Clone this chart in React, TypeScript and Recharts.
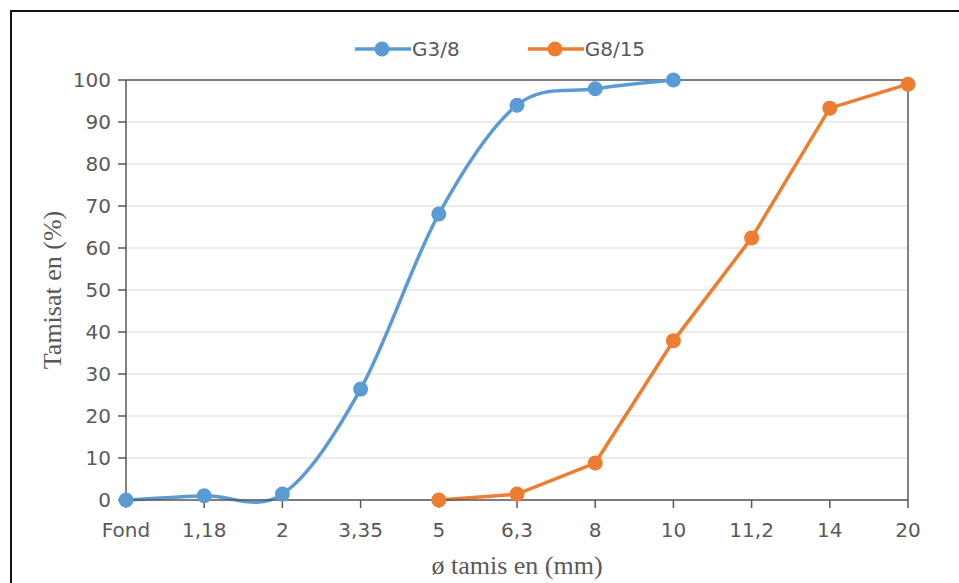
import {
  LineChart,
  Line,
  XAxis,
  YAxis,
  CartesianGrid,
  Legend,
  ReferenceLine,
  Label,
} from 'recharts';

// tamis (mm)
const sieves = ['Fond', '1,18', '2', '3,35', '5', '6,3', '8', '10', '11,2', '14', '20'];
// tamisat cumulé (%)
const g3_8 = [0, 1, 1.4, 26.4, 68.1, 94, 97.9, 100, null, null, null];
const g8_15 = [null, null, null, null, 0, 1.4, 8.8, 37.9, 62.4, 93.3, 99];
const yTicks = [0, 10, 20, 30, 40, 50, 60, 70, 80, 90, 100];

const BLUE = '#5B9BD5';
const ORANGE = '#ED7D31';
const AXIS = '#595959';
const TEXT = '#595959';

const chartData = sieves.map((s, i) => ({ sieve: s, g3_8: g3_8[i], g8_15: g8_15[i] }));

// lissage façon Excel (bezier, tangente = (p[i+1]-p[i-1])/6)
const excelSmooth = (ctx: any) => {
  let pts: number[][] = [];
  return {
    areaStart() {},
    areaEnd() {},
    lineStart() {
      pts = [];
    },
    point(x: number, y: number) {
      pts.push([+x, +y]);
    },
    lineEnd() {
      if (!pts.length) return;
      ctx.moveTo(pts[0][0], pts[0][1]);
      for (let i = 0; i < pts.length - 1; i++) {
        const p0 = pts[i - 1] || pts[i];
        const p1 = pts[i];
        const p2 = pts[i + 1];
        const p3 = pts[i + 2] || p2;
        ctx.bezierCurveTo(
          p1[0] + (p2[0] - p0[0]) / 6,
          p1[1] + (p2[1] - p0[1]) / 6,
          p2[0] - (p3[0] - p1[0]) / 6,
          p2[1] - (p3[1] - p1[1]) / 6,
          p2[0],
          p2[1],
        );
      }
    },
  };
};

const legendItems = [
  { name: 'G3/8', color: BLUE },
  { name: 'G8/15', color: ORANGE },
];

const LegendContent = () => (
  <div style={{ display: 'flex', alignItems: 'center' }}>
    {legendItems.map(item => (
      <div key={item.name} style={{ display: 'flex', alignItems: 'center', marginRight: 68 }}>
        <svg width={56} height={20}>
          <line x1={0} y1={10} x2={56} y2={10} stroke={item.color} strokeWidth={3.5} />
          <circle cx={27} cy={10} r={7.5} fill={item.color} />
        </svg>
        <span style={{ fontFamily: 'DejaVu Sans', fontSize: 20, color: TEXT, marginLeft: 1 }}>
          {item.name}
        </span>
      </div>
    ))}
  </div>
);

const tickStyle = { fontFamily: 'DejaVu Sans', fontSize: 20, fill: TEXT };

const App = () => {
  return (
    <div
      style={{
        position: 'fixed',
        left: 0,
        top: 0,
        width: 959,
        height: 583,
        overflow: 'hidden',
        background: '#fff',
      }}
    >
      <div
        style={{
          position: 'absolute',
          left: 10,
          top: 10,
          width: 1000,
          height: 650,
          border: '2.5px solid #111',
          boxSizing: 'border-box',
        }}
      />
      <div style={{ position: 'absolute', left: 0, top: 0 }}>
        <LineChart
          width={959}
          height={583}
          data={chartData}
          margin={{ top: 80, right: 51, bottom: 0, left: 0 }}
        >
          <CartesianGrid vertical={false} stroke="#D9D9D9" strokeWidth={1} />
          <XAxis
            dataKey="sieve"
            interval={0}
            height={83}
            tick={tickStyle}
            tickSize={8}
            tickMargin={15}
            axisLine={{ stroke: AXIS, strokeWidth: 1.5 }}
            tickLine={{ stroke: AXIS, strokeWidth: 1.5 }}
          >
            <Label
              value="ø tamis en (mm)"
              position="insideBottom"
              offset={9}
              style={{ fontFamily: 'Liberation Serif', fontSize: 26, fill: TEXT }}
            />
          </XAxis>
          <YAxis
            width={126}
            domain={[0, 100]}
            ticks={yTicks}
            interval={0}
            tick={tickStyle}
            tickSize={8}
            tickMargin={7}
            axisLine={{ stroke: AXIS, strokeWidth: 1.5 }}
            tickLine={{ stroke: AXIS, strokeWidth: 1.5 }}
          >
            <Label
              value="Tamisat en (%)"
              angle={-90}
              position="insideLeft"
              offset={52}
              style={{ fontFamily: 'Liberation Serif', fontSize: 26, fill: TEXT, textAnchor: 'middle' }}
            />
          </YAxis>
          <ReferenceLine y={100} stroke={AXIS} strokeWidth={1.5} />
          <ReferenceLine x="20" stroke={AXIS} strokeWidth={1.5} />
          <Legend
            verticalAlign="middle"
            align="center"
            width={340}
            wrapperStyle={{ top: 37, left: 355 }}
            content={<LegendContent />}
          />
          <Line
            dataKey="g3_8"
            name="G3/8"
            type={excelSmooth as any}
            stroke={BLUE}
            strokeWidth={3.5}
            dot={{ r: 7.5, fill: BLUE, stroke: BLUE, strokeWidth: 0 }}
            activeDot={false}
            isAnimationActive={false}
          />
          <Line
            dataKey="g8_15"
            name="G8/15"
            type="linear"
            stroke={ORANGE}
            strokeWidth={3.5}
            dot={{ r: 7.5, fill: ORANGE, stroke: ORANGE, strokeWidth: 0 }}
            activeDot={false}
            isAnimationActive={false}
          />
        </LineChart>
      </div>
    </div>
  );
};

export default App;
